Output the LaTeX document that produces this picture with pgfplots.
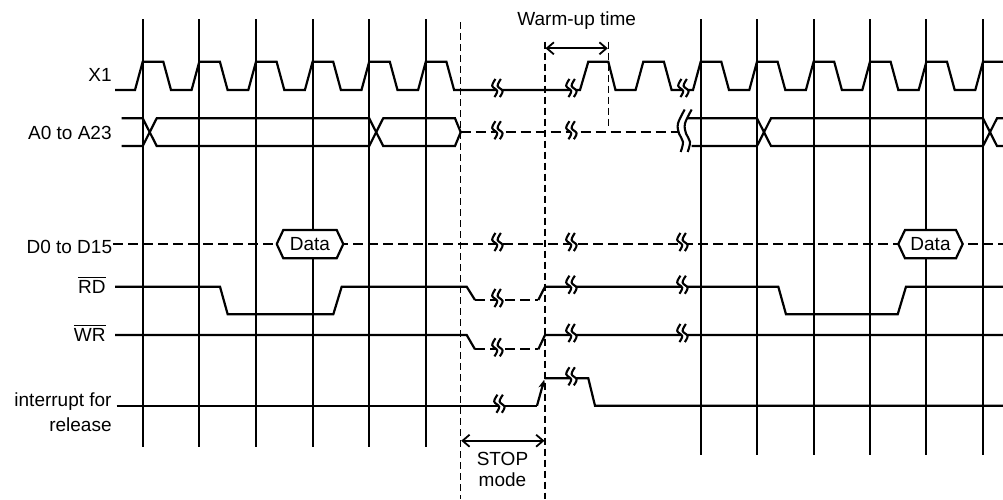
\documentclass[border=0pt]{standalone}
\usepackage{pgfplots}
\pgfplotsset{compat=1.18}
\usepackage{pgfplotstable}
\usepackage{fontspec}
\setmainfont{Liberation Sans}
\usetikzlibrary{arrows.meta}

% small break mark (two S strokes), offsets from its centre in px
\pgfplotstableread{
x y
-2.5 -11
-5.8 -4.2
-0.8 1
-3.6 7
}\sqa
\pgfplotstableread{
x y
2.9 -11
-0.4 -4.2
4.6 1
1.8 7
}\sqb
\pgfplotstableread{
x y
-2.5 -11
-5.8 -4.2
-0.8 1
-3.6 7
1.8 7
4.6 1
-0.4 -4.2
2.9 -11
}\sqf
% tall break mark on the address bus
\pgfplotstableread{
x y
3.7 -22.7
-3 -8.7
-2 1.3
2 9.7
-0.3 19.7
}\bka
\pgfplotstableread{
x y
10.7 -22.7
4 -8.7
5 1.3
9 9.7
6.7 19.7
}\bkb
\pgfplotstableread{
x y
3.7 -22.7
-3 -8.7
-2 1.3
2 9.7
-0.3 19.7
6.7 19.7
9 9.7
5 1.3
4 -8.7
10.7 -22.7
}\bkf

\newcommand{\brk}[2]{%
  \addplot[fill=white,draw=none] table[x expr=\thisrow{x}+#1,y expr=\thisrow{y}+#2]{\sqf};
  \addplot[brkl,smooth,tension=0.6] table[x expr=\thisrow{x}+#1,y expr=\thisrow{y}+#2]{\sqa};
  \addplot[brkl,smooth,tension=0.6] table[x expr=\thisrow{x}+#1,y expr=\thisrow{y}+#2]{\sqb};}
\newcommand{\bbrk}[2]{%
  \addplot[fill=white,draw=none] table[x expr=\thisrow{x}+#1,y expr=\thisrow{y}+#2]{\bkf};
  \addplot[brkl,smooth,tension=0.6] table[x expr=\thisrow{x}+#1,y expr=\thisrow{y}+#2]{\bka};
  \addplot[brkl,smooth,tension=0.6] table[x expr=\thisrow{x}+#1,y expr=\thisrow{y}+#2]{\bkb};}

\begin{document}
\begin{tikzpicture}[font=\fontsize{9.5}{11}\selectfont,
  lab/.style={anchor=base east, inner xsep=0pt}]
\begin{axis}[
  hide axis, scale only axis,
  width=501.5pt, height=249.5pt,
  xmin=0, xmax=1003, ymin=0, ymax=499,
  y dir=reverse, clip=false,
  sig/.style={black, line width=1.1pt, line join=miter},
  dsig/.style={black, line width=1.1pt, dash pattern=on 5pt off 2.5pt},
  vl/.style={black, line width=1pt},
  dvl/.style={black, line width=0.75pt, dash pattern=on 3.5pt off 2pt},
  brkl/.style={black, line width=1.05pt},
]
\coordinate (bl) at (axis cs:0,499);
\coordinate (tr) at (axis cs:1003,0);
% clock grid lines
\addplot[vl] coordinates {(142.7,19.3)(142.7,447)};
\addplot[vl] coordinates {(199.3,19.3)(199.3,447)};
\addplot[vl] coordinates {(256,19.3)(256,447)};
\addplot[vl] coordinates {(312.6,19.3)(312.6,447)};
\addplot[vl] coordinates {(369.2,19.3)(369.2,447)};
\addplot[vl] coordinates {(425.8,19.3)(425.8,447)};
\addplot[vl] coordinates {(700.7,19.3)(700.7,455)};
\addplot[vl] coordinates {(757,19.3)(757,455)};
\addplot[vl] coordinates {(813.6,19.3)(813.6,455)};
\addplot[vl] coordinates {(870,19.3)(870,455)};
\addplot[vl] coordinates {(926.4,19.3)(926.4,455)};
\addplot[vl] coordinates {(983,19.3)(983,455)};
% STOP mode / warm-up markers
\addplot[dvl] coordinates {(460.7,22)(460.7,499)};
\addplot[dvl] coordinates {(545,41.7)(545,499)};
\addplot[dvl] coordinates {(608.3,41.7)(608.3,126.7)};

% X1
\addplot[sig] coordinates {
  (115,90)(135,90)(142.7,61.7)(163.3,61.7)(171,90)
  (191.6,90)(199.3,61.7)(219.9,61.7)(227.6,90)
  (248.3,90)(256,61.7)(276.6,61.7)(284.3,90)
  (304.9,90)(312.6,61.7)(333.2,61.7)(340.9,90)
  (361.5,90)(369.2,61.7)(389.8,61.7)(397.5,90)
  (418.1,90)(425.8,61.7)(446.4,61.7)(454.1,90)
  (580,90)(588.3,61.7)(608.3,61.7)(615.5,90)
  (635.6,90)(643.3,61.7)(663.9,61.7)(671.6,90)
  (693,90)(700.7,61.7)(721.3,61.7)(729,90)
  (749.3,90)(757,61.7)(777.6,61.7)(785.3,90)
  (805.9,90)(813.6,61.7)(834.2,61.7)(841.9,90)
  (862.3,90)(870,61.7)(890.6,61.7)(898.3,90)
  (918.7,90)(926.4,61.7)(947,61.7)(954.7,90)
  (975.3,90)(983,61.7)(1003,61.7)
};
\brk{498}{90}
\brk{572}{90}
\brk{684}{90}

% A0 to A23
\addplot[sig] coordinates {(121.7,118.3)(142.7,118.3)(156.7,146)(369.2,146)(383.2,118.3)(455,118.3)(460.7,132.2)};
\addplot[sig] coordinates {(121.7,146)(142.7,146)(156.7,118.3)(369.2,118.3)(383.2,146)(455,146)(460.7,132.2)};
\addplot[dsig] coordinates {(460.7,132.2)(681,132.2)};
\addplot[sig] coordinates {(685,118.3)(757,118.3)(771,146)(983,146)(997,118.3)(1003,118.3)};
\addplot[sig] coordinates {(691.7,146)(757,146)(771,118.3)(983,118.3)(997,146)(1003,146)};
\brk{498}{132.2}
\brk{572}{132.2}
\bbrk{681}{132.2}

% D0 to D15
\addplot[dsig] coordinates {(113,244)(1003,244)};
\addplot[sig, fill=white] coordinates {(276.7,244)(283.3,230)(336.7,230)(343.3,244)(336.7,258.3)(283.3,258.3)(276.7,244)};
\addplot[sig, fill=white] coordinates {(898.3,244)(905,230)(956,230)(962.7,244)(956,258.3)(905,258.3)(898.3,244)};
\brk{498}{244}
\brk{572}{244}
\brk{683}{244}

% RD
\addplot[sig] coordinates {(115,286.7)(220,286.7)(227.7,314.3)(333.3,314.3)(341.7,286.7)(466.7,286.7)(475,300)};
\addplot[dsig] coordinates {(475,300)(538.3,300)};
\addplot[sig] coordinates {(538.3,300)(545,286.7)(778.3,286.7)(786,314.3)(897.7,314.3)(906,286.7)(1003,286.7)};
\brk{498}{300}
\brk{572}{286.7}
\brk{683}{286.7}

% WR
\addplot[sig] coordinates {(115,335)(466.7,335)(475,349.3)};
\addplot[dsig] coordinates {(475,349.3)(538.3,349.3)};
\addplot[sig] coordinates {(538.3,349.3)(545,335)(1003,335)};
\brk{498}{349.3}
\brk{572}{335}
\brk{683}{335}

% interrupt for release
\addplot[sig] coordinates {(116.7,405.7)(537,405.7)};
\addplot[sig, -{Stealth[length=4.5pt,width=3.5pt]}] coordinates {(537,405.7)(544.3,379.5)};
\addplot[sig] coordinates {(545,378.3)(588.3,378.3)(595,405.7)(1003,405.7)};
\brk{500}{405.7}
\brk{572}{378.3}

% dimension arrows
\addplot[black, line width=0.9pt, {Straight Barb[length=3.5pt,width=6pt]}-{Straight Barb[length=3.5pt,width=6pt]}]
  coordinates {(545.5,48.3)(607.8,48.3)};
\addplot[black, line width=0.9pt, {Straight Barb[length=3.5pt,width=6pt]}-{Straight Barb[length=3.5pt,width=6pt]}]
  coordinates {(461.2,440.7)(544.5,440.7)};

% labels
\node[lab] at (axis cs:112,81.7) {X1};
\node[lab] at (axis cs:112,139.3) {A0 to A23};
\node[lab, fill=white] at (axis cs:112.5,253.3) {D0 to D15};
\node[lab] at (axis cs:106,293) {$\overline{\hbox{RD}}$};
\node[lab] at (axis cs:106,341.7) {$\overline{\hbox{WR}}$};
\node[lab] at (axis cs:112,406.7) {interrupt for};
\node[lab] at (axis cs:112,431) {release};
\node[anchor=base] at (axis cs:576.7,25) {Warm-up time};
\node[anchor=base, fill=white, inner xsep=1pt, inner ysep=0.5pt] at (axis cs:502.5,465) {STOP};
\node[anchor=base] at (axis cs:502.5,486) {mode};
\node at (axis cs:310,244) {Data};
\node at (axis cs:930.5,244) {Data};
\end{axis}
\pgfresetboundingbox
\path[use as bounding box] (bl) rectangle (tr);
\end{tikzpicture}
\end{document}
